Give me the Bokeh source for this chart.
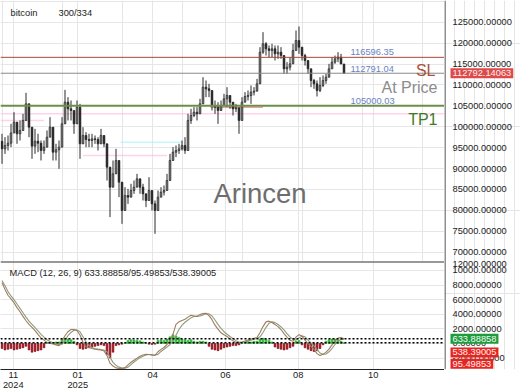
from bokeh.plotting import figure
from bokeh.models import (Range1d, FixedTicker, Span, Label, Grid,
                          ColumnDataSource, GlobalInlineStyleSheet)
from bokeh.core.properties import value
from bokeh.layouts import column, row
from bokeh.embed import file_html
from bokeh.resources import INLINE

# ---------------- data ----------------
symbol = "bitcoin"
counter = "300/334"
first_open = 96500
close = [94700, 95500, 96060, 98500, 101090, 98300, 99100, 101490, 105475, 99890,
         95350, 96540, 96060, 94310, 95110, 97500, 99890, 93910, 94500, 95110,
         100690, 105870, 104280, 103880, 100690, 104680, 95900, 97900, 96940, 96700,
         97100, 96940, 95900, 97900, 95900, 90330, 85540, 88730, 91920, 86740,
         79960, 83550, 83150, 84740, 85540, 87530, 85540, 83950, 82350, 84740,
         81550, 79960, 83150, 84350, 84740, 87130, 91920, 93910, 94310, 94710,
         95510, 94310, 101490, 102680, 103480, 103080, 105470, 109460, 109060, 108660,
         105080, 104680, 103880, 105080, 106670, 107470, 105870, 104280, 104520, 101490,
         105870, 107230, 107470, 108270, 108500, 110260, 117830, 119830, 118630, 118230,
         118630, 117430, 117830, 117030, 113840, 114240, 115040, 118230, 120620, 119030,
         117030, 115840, 113840, 111050, 110260, 108660, 109860, 111050, 111850, 113840,
         115440, 116240, 116640, 115000, 112792]
high = [98300, 97500, 97900, 100690, 103480, 100690, 101490, 103080, 108100, 103880,
        98300, 99490, 98300, 96700, 96700, 99100, 102280, 95910, 95910, 96700,
        102280, 108820, 107070, 106270, 103080, 106270, 105470, 99890, 98700, 98300,
        98300, 97900, 97500, 99490, 96700, 95110, 89530, 91920, 94710, 90330,
        82350, 85540, 85140, 86340, 87130, 88730, 87530, 86340, 83950, 87930,
        83950, 82350, 84740, 85540, 85940, 88730, 93510, 95110, 95510, 95910,
        96700, 97500, 103080, 104280, 104680, 104680, 106670, 111850, 111050, 110260,
        106670, 106270, 105870, 106270, 107870, 109460, 107470, 105870, 105470, 103080,
        107070, 108270, 108660, 109860, 109460, 111450, 119030, 122620, 120230, 119430,
        119830, 119430, 119430, 119030, 115840, 115440, 116640, 119830, 123010, 123970,
        118230, 117430, 115840, 113450, 111450, 111050, 111850, 112250, 112650, 115040,
        116640, 117030, 117830, 117430, 114650]
low = [91120, 93510, 94310, 95110, 98700, 95910, 96700, 99890, 103080, 97500,
       92320, 93510, 93910, 91920, 93510, 95910, 97500, 91920, 91920, 89930,
       99100, 102280, 101490, 101490, 98300, 102280, 92320, 96300, 95110, 95110,
       95110, 95900, 94310, 95900, 95110, 87130, 78370, 85540, 89530, 83150,
       76770, 81550, 81550, 83150, 83950, 86340, 83950, 82350, 80760, 82350,
       79960, 74380, 81550, 83150, 83550, 84740, 89530, 91920, 92720, 93510,
       94310, 93510, 97500, 100690, 102280, 101490, 103880, 107070, 107070, 107070,
       103880, 103080, 100690, 103880, 105470, 104680, 104280, 102680, 103480, 98300,
       104680, 106270, 106270, 105470, 107470, 108660, 110660, 117430, 117030, 116640,
       116640, 115840, 116240, 116240, 112650, 112650, 113450, 116640, 118230, 117430,
       115840, 114640, 112650, 109460, 109060, 107230, 108270, 109460, 110260, 111850,
       114240, 115040, 115440, 115040, 112660]

macd = [8300, 7400, 6600, 6100, 5580, 4900, 4330, 3700, 3100, 2600,
        2200, 1750, 1230, 760, 450, 140, 0, -80, -200, -330,
        400, 1050, 1600, 1900, 1900, 1730, 1150, 150, -450, -570,
        -700, -800, -850, -890, -1030, -1680, -2700, -3100, -3350, -3420,
        -3420, -3320, -2950, -2580, -2300, -2030, -1750, -1600, -1500, -1530,
        -1630, -1650, -1140, -820, -560, -150, 350, 1270, 2600, 2950,
        3150, 3300, 3600, 3850, 3750, 3700, 3950, 4080, 4130, 3800,
        3250, 2500, 1950, 1450, 1180, 950, 620, 350, 125, 110,
        200, 340, 470, 600, 700, 800, 1500, 2300, 2950, 3050,
        2870, 2600, 2300, 1900, 1350, 860, 420, 300, 850, 1200,
        1000, 450, -30, -400, -800, -1400, -1650, -1500, -1200, -790,
        -200, 350, 720, 800, 633.88858]
signal = [8600, 7900, 7100, 6500, 6000, 5400, 4800, 4200, 3600, 3050,
          2600, 2150, 1700, 1250, 850, 500, 250, 100, -50, -200,
          -150, 450, 1050, 1500, 1800, 1850, 1600, 900, 200, -300,
          -550, -700, -780, -850, -900, -1150, -1900, -2600, -3000, -3250,
          -3380, -3400, -3250, -2900, -2550, -2250, -1950, -1750, -1600, -1520,
          -1530, -1580, -1500, -1100, -800, -500, -150, 350, 1100, 1900,
          2500, 2900, 3200, 3500, 3700, 3700, 3750, 3900, 4050, 4050,
          3750, 3200, 2600, 2050, 1600, 1250, 950, 650, 380, 200,
          150, 200, 320, 450, 580, 680, 900, 1500, 2200, 2750,
          2950, 2850, 2600, 2250, 1850, 1350, 900, 550, 450, 750,
          1000, 900, 450, 50, -350, -850, -1300, -1500, -1450, -1150,
          -700, -150, 300, 560, 538.39005]
hist = [-700, -900, -800, -700, -900, -800, -700, -600, -400,
        -900, -1200, -1100, -1000, -900, -600,
        100, 150, 100, 200, 200,
        600, 700, 600, 500, 300, -200,
        -700, -800, -700, -600, -500, -400, -300, -200, -300,
        -1500, -2000, -1200,
        -300, -200, -100, 100,
        400, 500, 450, 400, 350, 200,
        100, -100, -150, -100,
        400, 500, 400, 600, 900, 1200,
        1000, 800, 600, 500, 400, 500, 300, 200, 300, 300, 200,
        -400, -800, -900, -1000, -800, -600, -500, -400, -300,
        -300, -200,
        100, 200, 300, 200, 300, 300, 600, 700, 600, 400, 200,
        -500, -700, -800, -900, -800, -600, -400,
        300, 400, -200,
        -600, -800, -1000, -1100, -1000, -700,
        -200,
        300, 500, 600, 600, 500, 300,
        95.49853]

stop_loss = 116596.35
at_price = 112791.04
take_profit = 105000.03
last_price = 112792.14063
macd_last, hist_last, signal_last = 633.88858, 95.49853, 538.39005

# faint support / resistance marks seen on the price panel
zone_level = [103090, 101490, 96300, 93115, 104660]
zone_from = [-0.5, -0.5, 39.5, 27.0, 69.5]
zone_to = [147.5, 14.0, 60.0, 55.0, 87.0]
zone_color = ["#ffb8dc", "#ffb8dc", "#9ff5f5", "#ffb8dc", "#e06060"]

price_ticks = [70000, 75000, 80000, 85000, 90000, 95000, 100000, 105000,
               110000, 115000, 120000, 125000]
macd_ticks = [-2000, 0, 2000, 4000, 6000, 8000, 10000]
macd_top_tick = 12000
month_ticks = [3.75, 25.25, 50.25, 74.5, 98.75, 123.75]
month_labels = ["11\n2024", "01\n2025", "04", "06", "08", "10"]

# ---------------- derived tables ----------------
opens = [first_open] + close[:-1]
n = len(close)
idx = list(range(n))
hi = [max(h, o, c) for h, o, c in zip(high, opens, close)]
lo = [min(l, o, c) for l, o, c in zip(low, opens, close)]
up = [c >= o for o, c in zip(opens, close)]
candles = ColumnDataSource(dict(
    x=idx, hi=hi, lo=lo,
    top=[max(o, c) for o, c in zip(opens, close)],
    bottom=[min(o, c) for o, c in zip(opens, close)],
    fill=["#9a9a9a" if u else "#1e1e1e" for u in up],
))
hsrc = ColumnDataSource(dict(
    x=idx, h=hist,
    light=["#a6f2bf" if v >= 0 else "#ffcce6" for v in hist],
    dark=["#33cc33" if v >= 0 else "#d41414" for v in hist],
    edge=["#2a9a2a" if v >= 0 else "#5a0000" for v in hist],
))
msrc = ColumnDataSource(dict(x=idx, macd=macd, signal=signal))
zsrc = ColumnDataSource(dict(y=zone_level, x0=zone_from, x1=zone_to, c=zone_color))
price_tick_src = ColumnDataSource(dict(y=price_ticks, t=[f"{v:.5f}" for v in price_ticks]))
macd_tick_src = ColumnDataSource(dict(y=macd_ticks, t=[f"{v:.5f}" for v in macd_ticks]))

FONT = "Liberation Sans"
SMALL = "9.3px"
GRID = "#e6e6e6"

# price-panel and macd-panel ranges (the right-hand strip spans both panels)
PRICE_LO, PRICE_HI = 67759, 130190
MACD_LO, MACD_HI = -3575, 11220
STRIP_PRICE_LO = 41924      # price value at the bottom of the macd frame
STRIP_MACD_HI = 46951       # macd value at the top of the price frame


def lab(fig, text, x, y, **kw):
    opts = dict(text_font=FONT, text_font_size=SMALL, text_color="#222222",
                text_align="left", text_baseline="middle")
    opts.update(kw)
    fig.add_layout(Label(x=x, y=y, text=text, **opts))


# ---------------- main price panel ----------------
x_range = Range1d(-0.5, 147.5)
p = figure(x_range=x_range, y_range=Range1d(PRICE_LO, PRICE_HI),
           frame_width=444, frame_height=261,
           x_axis_location=None, y_axis_location=None,
           toolbar_location=None, output_backend="svg",
           min_border_left=0, min_border_top=0, min_border_bottom=0, min_border_right=0,
           outline_line_color=None, background_fill_color="#ffffff")
p.add_layout(Grid(dimension=1, ticker=FixedTicker(ticks=price_ticks + [130000]), grid_line_color=GRID))
p.add_layout(Grid(dimension=0, ticker=FixedTicker(ticks=month_ticks), grid_line_color=GRID))

p.segment(x0="x0", x1="x1", y0="y", y1="y", source=zsrc, line_color="c",
          line_width=1.5, line_alpha=0.6)
p.add_layout(Span(location=take_profit, dimension="width", line_color="#6b8f4a", line_width=2))
p.add_layout(Span(location=at_price, dimension="width", line_color="#8a8a8a", line_width=1))
p.add_layout(Span(location=stop_loss, dimension="width", line_color="#a8463a", line_width=1))

p.segment(x0="x", x1="x", y0="lo", y1="hi", source=candles, line_color="#2a2a2a", line_width=1)
p.vbar(x="x", top="top", bottom="bottom", width=0.55, source=candles,
       fill_color="fill", line_color="#2a2a2a", line_width=0.8)

xr_end = x_range.end
lab(p, symbol, x_range.start, PRICE_HI, x_offset=10, y_offset=-12.5)
lab(p, counter, x_range.start, PRICE_HI, x_offset=58, y_offset=-12.5)
lab(p, "Arincen", 86, 84000, text_font_size="27.5px", text_color="#6e6e6e",
    text_align="center")
lab(p, f"{stop_loss:.2f}", 116.2, stop_loss, y_offset=5, text_color="#6a82c2")
lab(p, f"{at_price:.2f}", 116.2, at_price, y_offset=4.5, text_color="#6a82c2")
lab(p, f"{take_profit:.2f}", 116.2, take_profit, y_offset=4.6, text_color="#6a82c2")
lab(p, "SL", xr_end, stop_loss, x_offset=-9, y_offset=-13.5, text_align="right",
    text_font_size="16px", text_color="#a9503a")
lab(p, "At Price", xr_end, at_price, x_offset=-7, y_offset=-14, text_align="right",
    text_font_size="16px", text_color="#8c8c8c")
lab(p, "TP1", xr_end, take_profit, x_offset=-7, y_offset=-13.5, text_align="right",
    text_font_size="16px", text_color="#3e7a26")

# ---------------- MACD panel ----------------
m = figure(x_range=x_range, y_range=Range1d(MACD_LO, MACD_HI),
           frame_width=444, frame_height=108,
           x_axis_location="below", y_axis_location=None,
           toolbar_location=None, output_backend="svg",
           min_border_left=0, min_border_top=0, min_border_bottom=21, min_border_right=0,
           outline_line_color=None, background_fill_color="#ffffff")
m.xaxis.ticker = FixedTicker(ticks=month_ticks)
m.xaxis.major_label_overrides = dict(zip(month_ticks, month_labels))
for ax in m.xaxis:
    ax.axis_line_color = "#222222"
    ax.major_tick_out = 0
    ax.major_tick_in = 0
    ax.minor_tick_out = 0
    ax.minor_tick_in = 0
    ax.major_label_standoff = 0
    ax.major_label_text_font = FONT
    ax.major_label_text_font_size = SMALL
    ax.major_label_text_color = "#222222"
    ax.major_label_text_line_height = 1.0
m.add_layout(Grid(dimension=1, ticker=FixedTicker(ticks=macd_ticks), grid_line_color=GRID))
m.xgrid.grid_line_color = GRID
m.add_layout(Span(location=MACD_HI, dimension="width", line_color="#333333", line_width=2))

m.vbar(x="x", top="h", bottom=0, width=1.0, source=hsrc, fill_color="light", line_color=None)
m.vbar(x="x", top="h", bottom=0, width=0.5, source=hsrc, fill_color="dark",
       line_color="edge", line_width=0.6)
m.line("x", "signal", source=msrc, line_color="#8d9a80", line_width=1.1)
m.line("x", "macd", source=msrc, line_color="#a07c5c", line_width=1.1)
m.add_layout(Span(location=macd_last, dimension="width", line_color="#000000",
                  line_width=1.5, line_dash="2 2"))
m.add_layout(Span(location=hist_last, dimension="width", line_color="#000000",
                  line_width=1.5, line_dash="2 2"))

lab(m, f"MACD (12, 26, 9)    {macd_last:.5f}/{hist_last:.5f}/{signal_last:.5f}",
    x_range.start, MACD_HI, x_offset=9, y_offset=-11.5)

# ---------------- right-hand price/macd scale strip ----------------
r = figure(x_range=Range1d(0, 76), y_range=Range1d(STRIP_PRICE_LO, PRICE_HI),
           frame_width=76, frame_height=369,
           x_axis_location=None, y_axis_location=None,
           toolbar_location=None, output_backend="svg",
           min_border_left=0, min_border_top=0, min_border_bottom=21, min_border_right=0,
           outline_line_color=None, background_fill_color="#ffffff")
r.extra_y_ranges = {"macd": Range1d(MACD_LO, STRIP_MACD_HI)}
r.add_layout(Span(location=0.5, dimension="height", line_color="#222222", line_width=1))

tick_style = dict(text_font=value(FONT), text_font_size=value(SMALL), text_color="#222222",
                  text_align="left", text_baseline="middle")
r.text(x=8, y="y", text="t", source=price_tick_src, **tick_style)
r.text(x=8, y="y", text="t", source=macd_tick_src, y_range_name="macd", **tick_style)
r.add_layout(Label(x=8, y=macd_top_tick, y_offset=-8, y_range_name="macd",
                   text=f"{macd_top_tick:.5f}", text_font=FONT, text_font_size=SMALL,
                   text_color="#222222", text_baseline="middle"))

box = dict(text_font=FONT, text_font_size=SMALL, text_align="left", text_baseline="middle",
           padding=2, background_fill_alpha=1.0)
r.add_layout(Label(x=6, y=last_price, text=f"{last_price:.5f}", text_color="#fff0f0",
                   background_fill_color="#dd4a4a", **box))
r.add_layout(Label(x=6, y=macd_last, y_range_name="macd", text=f"{macd_last:.5f}",
                   text_color="#f0fff0", background_fill_color="#1f9a3e", **box))
r.add_layout(Label(x=6, y=signal_last, y_offset=-13, y_range_name="macd",
                   text=f"{signal_last:.5f}", text_color="#fff0f0",
                   background_fill_color="#e52620", **box))
r.add_layout(Label(x=6, y=hist_last, y_offset=-21, y_range_name="macd",
                   text=f"{hist_last:.5f}", text_color="#fff0f0",
                   background_fill_color="#e52620", **box))

layout = row(column(p, m, spacing=0), r, spacing=0)
layout.stylesheets = [GlobalInlineStyleSheet(
    css="html, body { margin: 0 !important; padding: 0; overflow: hidden; }")]

open("out.html", "w").write(file_html(layout, INLINE))
